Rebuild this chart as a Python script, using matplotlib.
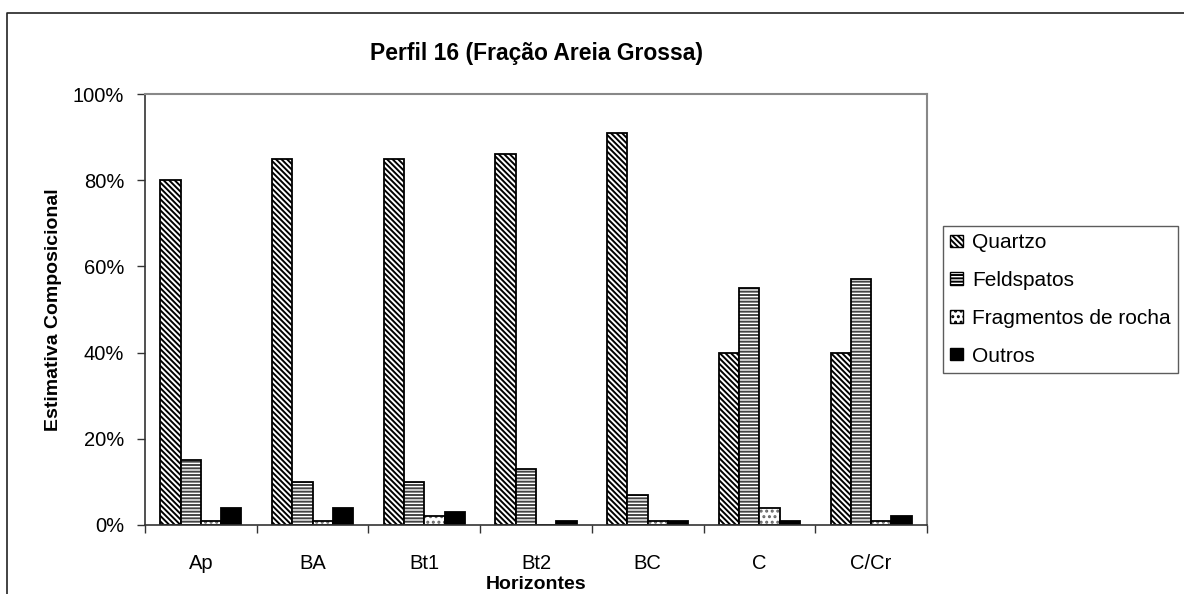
import numpy as np
import matplotlib.pyplot as plt
from matplotlib.lines import Line2D
from matplotlib.ticker import FixedLocator

plt.rcParams["font.family"] = ["Liberation Sans", "DejaVu Sans"]
plt.rcParams["hatch.linewidth"] = 1.4

horizontes = ["Ap", "BA", "Bt1", "Bt2", "BC", "C", "C/Cr"]
quartzo = [80, 85, 85, 86, 91, 40, 40]
feldspatos = [15, 10, 10, 13, 7, 55, 57]
fragmentos = [1, 1, 2, 0, 1, 4, 1]
outros = [4, 4, 3, 1, 1, 1, 2]

series = [
    ("Quartzo", quartzo, "white", "\\" * 6, "black"),
    ("Feldspatos", feldspatos, "white", "-" * 5, "#444444"),
    ("Fragmentos de rocha", fragmentos, "white", "...", "#666666"),
    ("Outros", outros, "black", None, "black"),
]

fig = plt.figure(figsize=(11.84, 5.94), dpi=100)
ax = fig.add_axes([145 / 1184, 69 / 594, 782 / 1184, 431 / 594])

x = np.arange(len(horizontes))
w = 1 / 5.5
for k, (name, vals, face, hatch, hcol) in enumerate(series):
    pos = x + (k - 1.5) * w
    # hatch drawn in its own colour, black outline on top
    ax.bar(pos, vals, width=w, color=face, edgecolor=hcol, linewidth=0,
           hatch=hatch, label=name)
    ax.bar(pos, vals, width=w, fill=False, edgecolor="black", linewidth=1.3)

ax.set_xlim(-0.5, len(horizontes) - 0.5)
ax.set_ylim(0, 100)
ax.set_yticks(np.arange(0, 101, 20))
ax.set_yticklabels([f"{v}%" for v in range(0, 101, 20)], fontsize=14.5)
ax.tick_params(axis="y", direction="out", length=6, width=1, pad=9,
               color="#333333")

ax.set_xticks(x)
ax.set_xticklabels(horizontes, fontsize=14.5)
ax.tick_params(axis="x", which="major", length=0, pad=21)
ax.xaxis.set_minor_locator(FixedLocator(np.arange(-0.5, len(horizontes), 1)))
ax.tick_params(axis="x", which="minor", direction="out", length=6, width=1,
               color="#333333")

for side in ("left", "bottom"):
    ax.spines[side].set_color("#333333")
    ax.spines[side].set_linewidth(1.2)
for side in ("top", "right"):
    ax.spines[side].set_color("#888888")
    ax.spines[side].set_linewidth(1.5)

ax.set_xlabel("Horizontes", fontsize=14, fontweight="bold", labelpad=2)
ax.set_ylabel("Estimativa Composicional", fontsize=14, fontweight="bold")
ax.yaxis.set_label_coords(-0.106, 0.5)
ax.text(0.5, 1.095, "Perfil 16 (Fração Areia Grossa)", transform=ax.transAxes,
        ha="center", va="center", fontsize=16.5, fontweight="bold")

leg = fig.legend(loc="upper left", bbox_to_anchor=(943 / 1184, 1 - 226 / 594),
                 fontsize=15, frameon=True, fancybox=False, borderaxespad=0,
                 borderpad=0.35, handlelength=0.6, handleheight=0.55,
                 handletextpad=0.45, labelspacing=0.9)
leg.get_frame().set_edgecolor("#333333")
leg.get_frame().set_linewidth(1.0)
for h in leg.legend_handles:
    h.set_linewidth(1.0)
    h.set_edgecolor("black")

# chart-area outline
fig.add_artist(Line2D([7 / 1184, 7 / 1184, 1.0], [0.0, 1 - 13 / 594, 1 - 13 / 594],
                      transform=fig.transFigure, color="#222222", linewidth=1.2))

fig.savefig("out.png", dpi=100)
